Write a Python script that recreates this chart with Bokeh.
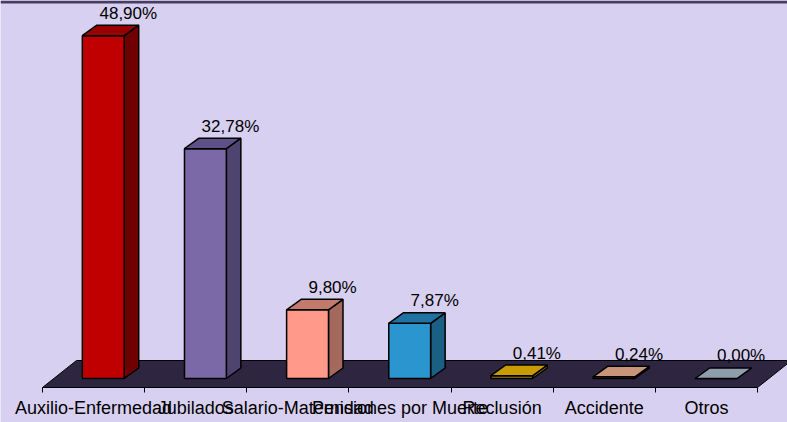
from bokeh.plotting import figure
from bokeh.models import FixedTicker, Range1d
from bokeh.core.properties import value
from bokeh.embed import file_html
from bokeh.resources import INLINE

# ---- data ----
categories = ["Auxilio-Enfermedad", "Jubilados", "Salario-Maternidad",
              "Pensiones por Muerte", "Reclusión", "Accidente", "Otros"]
percentages = [48.90, 32.78, 9.80, 7.87, 0.41, 0.24, 0.00]

# ---- styles ----
front_colors = ["#C00000", "#7B68A6", "#FF9A8A", "#2A95CF", "#A07A00", "#A8765E", "#73808C"]
top_colors   = ["#9A0000", "#5F5088", "#C27A6C", "#2072A2", "#C89B00", "#C8957A", "#8E9EAA"]
side_colors  = ["#700000", "#4E4470", "#A5685C", "#1B5F85", "#8C6C00", "#8C6450", "#66727E"]
BG = "#D8D0F0"
FLOOR = "#2E2640"
BORDER = "#463C64"

W, H = 787, 422
PPU = 7.01                       # pixels per percentage unit
CATPX = 102.14                   # pixels per category
zero_px = 378                    # vertical position of value 0
cat0_px = 42                     # horizontal position of first category boundary

x0 = -cat0_px / CATPX
x1 = x0 + W / CATPX
y1 = zero_px / PPU
y0 = y1 - H / PPU

FLOOR_FRONT = -1.284             # value level of floor front edge

p = figure(width=W, height=H, output_backend="svg", toolbar_location=None,
           x_range=Range1d(x0, x1), y_range=Range1d(y0, y1),
           y_axis_location=None, min_border_left=0, min_border_right=0,
           min_border_top=0, min_border_bottom=0)
p.background_fill_color = BG
p.border_fill_color = BG
p.outline_line_color = None
p.xgrid.visible = False
p.ygrid.visible = False

n = len(categories)
BDX, BDV = 0.142, 1.5      # bar depth (category units, value units)
FDX, FDV = 0.333, 3.85     # floor depth

# floor
p.patch([0, n, n + FDX, FDX],
        [FLOOR_FRONT, FLOOR_FRONT, FLOOR_FRONT + FDV, FLOOR_FRONT + FDV],
        fill_color=FLOOR, line_color="black", line_width=1)

# top border band
p.quad(left=x0, right=x1, bottom=y1 - 3 / PPU, top=y1, fill_color=BORDER, line_color=None)

# bars
fx, fy, tx, ty, sx, sy = [], [], [], [], [], []
for i, v in enumerate(percentages):
    a, b = i + 0.39, i + 0.80
    fx.append([a, b, b, a]); fy.append([0, 0, v, v])
    tx.append([a, b, b + BDX, a + BDX]); ty.append([v, v, v + BDV, v + BDV])
    sx.append([b, b + BDX, b + BDX, b]); sy.append([0, BDV, v + BDV, v])

p.patches(sx, sy, fill_color=side_colors, line_color="black", line_width=1.5)
p.patches(fx, fy, fill_color=front_colors, line_color="black", line_width=1.5)
p.patches(tx, ty, fill_color=top_colors, line_color="black", line_width=1.5)

# value labels
labels = [f"{v:.2f}".replace(".", ",") + "%" for v in percentages]
lx = [i + 0.84 for i in range(n)]
ly = [v + BDV for v in percentages]
p.text(x=lx, y=ly, text=labels, text_align="center", text_baseline="middle",
       y_offset=-12, text_font=value("Liberation Sans"), text_font_size="17px",
       text_color="black")

# category axis (fixed at the floor's front edge)
centers = [i + 0.5 for i in range(n)]
ax = p.xaxis[0]
ax.fixed_location = FLOOR_FRONT
ax.ticker = FixedTicker(ticks=centers, minor_ticks=list(range(n + 1)))
ax.major_label_overrides = {c: name for c, name in zip(centers, categories)}
ax.bounds = (0, n)
ax.axis_line_color = "black"
ax.axis_line_width = 1
ax.major_tick_in = 0
ax.major_tick_out = 0
ax.minor_tick_in = 0
ax.minor_tick_out = 5
ax.minor_tick_line_color = "black"
ax.major_label_standoff = 5
ax.major_label_text_font = "Liberation Sans"
ax.major_label_text_font_size = "18px"
ax.major_label_text_color = "black"

open("out.html", "w").write(file_html(p, INLINE))
